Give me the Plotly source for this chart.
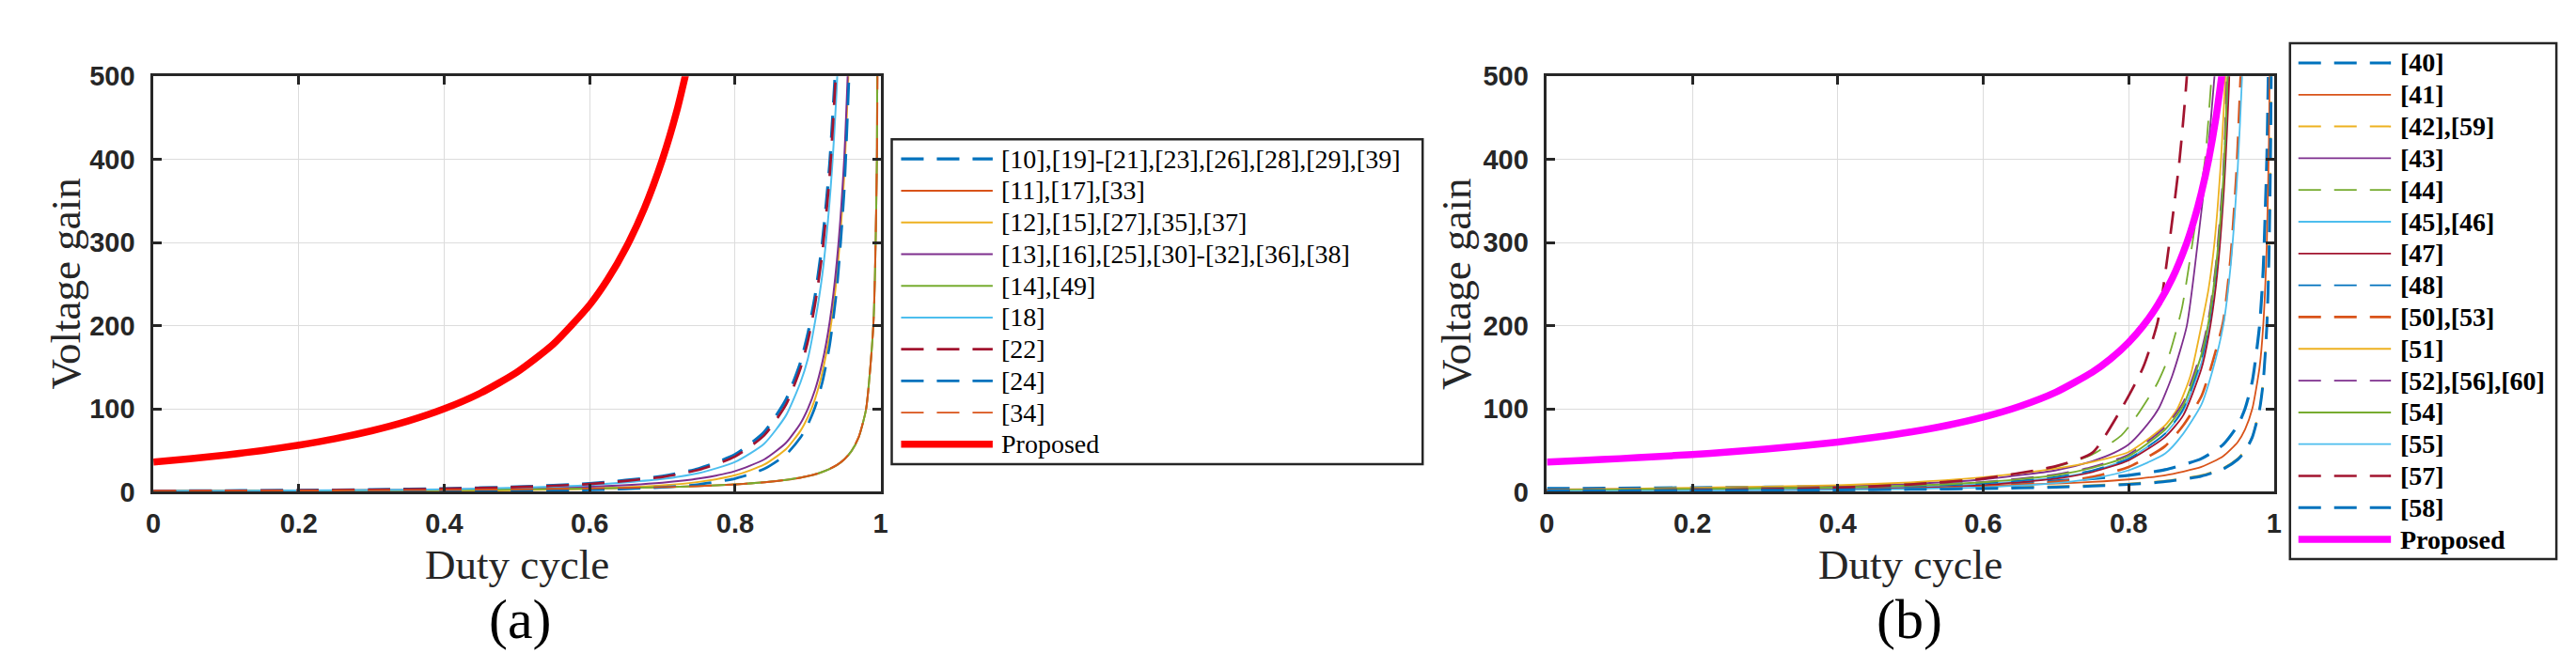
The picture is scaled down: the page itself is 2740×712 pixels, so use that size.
import plotly.graph_objects as go

# ---------------- panel (a) data ----------------
D_A = [0, 0.1, 0.2, 0.3, 0.4, 0.5, 0.6, 0.7, 0.75, 0.8, 0.84, 0.87, 0.89, 0.9,
       0.91, 0.92, 0.93, 0.94, 0.95, 0.96, 0.97, 0.98, 0.99, 0.995, 0.998]
G_A10 = [1, 1.36, 1.88, 2.65, 3.9, 6, 10, 18.9, 28, 45, 72, 111, 156, 190, 236, 300, 394, 539]
G_A11 = [1, 1.2, 1.5, 1.85, 2.3, 3, 4, 5.6, 7, 9, 11.5, 14.4, 17, 19, 21, 24, 27.5, 32, 39, 49, 66, 99, 199, 399, 999]
G_A12 = [0, 0.12, 0.31, 0.61, 1.11, 2, 3.75, 7.8, 12, 20, 32.8, 51.5, 73.6, 90, 112, 144, 190, 261, 380, 600]
G_A13 = [1, 1.23, 1.56, 2.04, 2.78, 4, 6.25, 11.1, 16, 25, 39, 59, 82.6, 100, 123, 156, 204, 278, 400, 625]
G_A14 = [1, 1.22, 1.5, 1.86, 2.33, 3, 4, 5.67, 7, 9, 11.5, 14.4, 17.2, 19, 21.2, 24, 27.6, 32.3, 39, 49, 65.7, 99, 199, 399, 999]
G_A18 = [1, 1.2, 1.6, 2.2, 3.2, 5, 8.2, 15.5, 22.5, 36, 58, 92, 132, 160, 205, 262, 350, 490, 720]
G_A22 = [1, 1.3, 1.8, 2.5, 3.7, 5.7, 9.5, 18, 26.5, 42.5, 68, 105, 149, 181, 226, 288, 380, 525]
G_A24 = [0, 0.01, 0.06, 0.18, 0.44, 1, 2.25, 5.4, 9, 16, 27.6, 44.8, 65.5, 81, 102, 132, 176, 245, 361, 576]
G_A34 = [1, 1.2, 1.5, 1.85, 2.3, 3, 4, 5.7, 7, 9, 11.5, 14.5, 17.2, 19, 21.3, 24, 27.8, 32.5, 39, 49.5, 66, 99, 198, 398, 990]
D_A_PROP = [0, 0.05, 0.1, 0.15, 0.2, 0.25, 0.3, 0.35, 0.4, 0.45, 0.5, 0.55, 0.6, 0.625,
            0.65, 0.675, 0.7, 0.72, 0.74]
G_A_PROP = [36, 39.9, 44.4, 49.8, 56.3, 64, 73.5, 85.2, 100, 119, 144, 177.8, 225, 256,
            293.9, 340.8, 400, 459, 532.5]

LABELS_A = ["[10],[19]-[21],[23],[26],[28],[29],[39]", "[11],[17],[33]",
            "[12],[15],[27],[35],[37]", "[13],[16],[25],[30]-[32],[36],[38]",
            "[14],[49]", "[18]", "[22]", "[24]", "[34]", "Proposed"]

# ---------------- panel (b) data ----------------
D_B40 = [0, 0.1, 0.2, 0.3, 0.4, 0.5, 0.6, 0.7, 0.75, 0.8, 0.85, 0.9, 0.93, 0.95, 0.96, 0.97, 0.98, 0.985, 0.99, 0.992, 0.994]
G_B40 = [4, 4.4, 5, 5.7, 6.7, 8, 10, 13.3, 16, 20, 26.7, 40, 57, 80, 100, 133, 200, 267, 400, 500, 667]
D_B41 = [0, 0.2, 0.4, 0.5, 0.6, 0.7, 0.75, 0.8, 0.85, 0.9, 0.93, 0.95, 0.96, 0.97, 0.98, 0.985, 0.99, 0.993, 0.995]
G_B41 = [3, 3.75, 5, 6, 7.5, 10, 12, 15, 20, 30, 43, 60, 75, 100, 150, 200, 300, 429, 600]
D_B42 = [0, 0.2, 0.4, 0.5, 0.6, 0.7, 0.75, 0.8, 0.85, 0.9, 0.93, 0.95, 0.96, 0.97, 0.98, 0.985, 0.99, 0.993, 0.995, 0.996, 0.997]
G_B42 = [2, 2.5, 3.3, 4, 5, 6.7, 8, 10, 13.3, 20, 28.6, 40, 50, 66.7, 100, 133, 200, 286, 400, 500, 667]
D_B43 = [0, 0.2, 0.4, 0.5, 0.6, 0.7, 0.75, 0.78, 0.8, 0.82, 0.841, 0.86, 0.88, 0.895, 0.908, 0.918, 0.925]
G_B43 = [2, 3.5, 6.5, 9.5, 15, 26, 37, 47, 57, 75, 100, 140, 200, 300, 400, 500, 600]
D_B44 = [0, 0.2, 0.4, 0.5, 0.6, 0.7, 0.75, 0.79, 0.81, 0.839, 0.854, 0.873, 0.89, 0.905, 0.914, 0.92]
G_B44 = [2, 3.5, 7, 10.5, 16.5, 30, 45, 68, 90, 130, 160, 220, 313, 400, 500, 580]
D_B45 = [0, 0.2, 0.4, 0.5, 0.6, 0.7, 0.75, 0.8, 0.85, 0.875, 0.9, 0.91, 0.92, 0.93, 0.937, 0.944]
G_B45 = [1.5, 2.5, 4.5, 6, 9.5, 17, 25, 40, 70, 98, 155, 195, 255, 360, 500, 690]
D_B47 = [0, 0.2, 0.4, 0.5, 0.6, 0.7, 0.75, 0.8, 0.85, 0.875, 0.9, 0.91, 0.92, 0.93, 0.938, 0.945]
G_B47 = [0.5, 1.2, 2.8, 4.5, 8, 16, 24, 38, 66, 92, 148, 188, 248, 350, 490, 680]
D_B48 = [0, 0.2, 0.4, 0.5, 0.6, 0.7, 0.75, 0.8, 0.85, 0.875, 0.9, 0.91, 0.92, 0.93, 0.936, 0.943]
G_B48 = [2, 3, 5, 6.5, 10, 18, 26, 40, 70, 100, 160, 200, 265, 370, 500, 700]
D_B50 = [0, 0.2, 0.4, 0.5, 0.6, 0.7, 0.75, 0.8, 0.85, 0.875, 0.9, 0.915, 0.93, 0.94, 0.948, 0.954, 0.96]
G_B50 = [1, 1.5, 2.5, 3.8, 6, 12, 18, 30, 55, 80, 115, 155, 205, 280, 380, 500, 650]
D_B51 = [0, 0.1, 0.2, 0.3, 0.4, 0.5, 0.6, 0.7, 0.75, 0.8, 0.85, 0.867, 0.885, 0.9, 0.91, 0.918, 0.927, 0.933, 0.94]
G_B51 = [2.5, 3.5, 5, 6.3, 8, 11.5, 17.6, 28, 36, 48, 80, 100, 140, 200, 245, 300, 400, 500, 650]
D_B52 = [0, 0.2, 0.4, 0.5, 0.6, 0.7, 0.75, 0.8, 0.85, 0.875, 0.9, 0.91, 0.92, 0.93, 0.935, 0.942]
G_B52 = [2.5, 4, 6, 8, 12, 21, 30, 45, 78, 108, 170, 210, 275, 385, 500, 700]
D_B54 = [0, 0.2, 0.4, 0.5, 0.6, 0.7, 0.75, 0.8, 0.85, 0.875, 0.9, 0.91, 0.92, 0.93, 0.936, 0.943]
G_B54 = [2, 3.5, 5.5, 7.5, 11.5, 20, 29, 43, 75, 104, 165, 205, 270, 375, 500, 700]
D_B55 = [0, 0.2, 0.4, 0.5, 0.6, 0.7, 0.75, 0.8, 0.85, 0.875, 0.9, 0.915, 0.93, 0.94, 0.95, 0.956, 0.962]
G_B55 = [1, 1.4, 2.3, 3.4, 5.5, 10.5, 16, 26, 46, 70, 105, 145, 200, 270, 390, 500, 650]
D_B57 = [0, 0.2, 0.4, 0.5, 0.6, 0.7, 0.75, 0.79, 0.82, 0.84, 0.856, 0.87, 0.88, 0.885]
G_B57 = [1, 2, 5, 9, 16, 31, 47, 100, 150, 205, 300, 400, 500, 600]
D_B58 = [0, 0.2, 0.4, 0.5, 0.6, 0.7, 0.75, 0.8, 0.85, 0.9, 0.93, 0.95, 0.96, 0.97, 0.98, 0.985, 0.99, 0.993, 0.995, 0.996, 0.997]
G_B58 = [1, 1.5, 2.3, 3, 4, 5.7, 7, 9, 12.3, 19, 27.6, 39, 49, 65.7, 99, 132, 199, 285, 399, 499, 665]
D_B_PROP = [0, 0.05, 0.1, 0.15, 0.2, 0.25, 0.3, 0.35, 0.4, 0.45, 0.5, 0.55, 0.6, 0.65, 0.7,
            0.75, 0.775, 0.8, 0.82, 0.84, 0.86, 0.88, 0.89, 0.9, 0.91, 0.92, 0.93]
G_B_PROP = [36, 37.9, 40, 42.4, 45, 48, 51.4, 55.4, 60, 65.5, 72, 80, 90, 102.9, 120,
            144, 160, 180, 200, 225, 257, 300, 327.3, 360, 400, 450, 514]

LABELS_B = ["[40]", "[41]", "[42],[59]", "[43]", "[44]", "[45],[46]", "[47]", "[48]",
            "[50],[53]", "[51]", "[52],[56],[60]", "[54]", "[55]", "[57]", "[58]", "Proposed"]

X_TICKS = [0, 0.2, 0.4, 0.6, 0.8, 1]
X_TICKTEXT = ["0", "0.2", "0.4", "0.6", "0.8", "1"]
Y_TICKS = [0, 100, 200, 300, 400, 500]
Y_TICKTEXT = ["0", "100", "200", "300", "400", "500"]

# ---------------- styles ----------------
BLUE, ORANGE, YELLOW, PURPLE = "#0072BD", "#D95319", "#EDB120", "#7E2F8E"
GREEN, LBLUE, DRED = "#77AC30", "#4DBEEE", "#A2142F"
DASH = "24px,14px"
INK = "#262626"

SERIES_A = [(D_A, G_A10), (D_A, G_A11), (D_A, G_A12), (D_A, G_A13), (D_A, G_A14),
            (D_A, G_A18), (D_A, G_A22), (D_A, G_A24), (D_A, G_A34), (D_A_PROP, G_A_PROP)]
STYLE_A = [(BLUE, 3.2, DASH), (ORANGE, 2, "solid"), (YELLOW, 2, "solid"), (PURPLE, 2, "solid"),
           (GREEN, 2, "solid"), (LBLUE, 2, "solid"), (DRED, 2.7, DASH), (BLUE, 2.7, DASH),
           (ORANGE, 1.8, DASH), ("#FF0000", 7.5, "solid")]

SERIES_B = [(D_B40, G_B40), (D_B41, G_B41), (D_B42, G_B42), (D_B43, G_B43), (D_B44, G_B44),
            (D_B45, G_B45), (D_B47, G_B47), (D_B48, G_B48), (D_B50, G_B50), (D_B51, G_B51),
            (D_B52, G_B52), (D_B54, G_B54), (D_B55, G_B55), (D_B57, G_B57), (D_B58, G_B58),
            (D_B_PROP, G_B_PROP)]
STYLE_B = [(BLUE, 3.2, DASH), (ORANGE, 1.8, "solid"), (YELLOW, 2, DASH), (PURPLE, 1.8, "solid"),
           (GREEN, 1.8, DASH), (LBLUE, 1.8, "solid"), (DRED, 1.8, "solid"), (BLUE, 1.8, DASH),
           (ORANGE, 2.7, DASH), (YELLOW, 1.8, "solid"), (PURPLE, 1.8, DASH), (GREEN, 2, "solid"),
           (LBLUE, 1.8, "solid"), (DRED, 2.7, DASH), (BLUE, 3, DASH), ("#FF00FF", 7.5, "solid")]

W, H = 2740, 712


def px(x):
    return x / W


def py(y):
    return 1 - y / H


fig = go.Figure()

for (d, g), (c, w, ds), name in zip(SERIES_A, STYLE_A, LABELS_A):
    n = min(len(d), len(g))
    fig.add_trace(go.Scatter(x=d[:n], y=g[:n], mode="lines", name=name, showlegend=False,
                             line=dict(color=c, width=w, dash=ds, shape="spline", smoothing=0.6),
                             xaxis="x", yaxis="y", hoverinfo="skip"))

for (d, g), (c, w, ds), name in zip(SERIES_B, STYLE_B, LABELS_B):
    n = min(len(d), len(g))
    fig.add_trace(go.Scatter(x=d[:n], y=g[:n], mode="lines", name=name, showlegend=False,
                             line=dict(color=c, width=w, dash=ds, shape="spline", smoothing=0.6),
                             xaxis="x2", yaxis="y2", hoverinfo="skip"))

tickfont = dict(family="Liberation Sans, Arial, sans-serif", size=29, color=INK, weight="bold")
ax_common = dict(showline=True, linecolor=INK, linewidth=2.5, mirror="ticks", ticks="inside",
                 ticklen=9, tickwidth=2.5, tickcolor=INK, showgrid=True, gridcolor="#dcdcdc",
                 gridwidth=1.3, zeroline=False, tickfont=tickfont, fixedrange=True)

xa = dict(ax_common, range=[0, 1], tickvals=X_TICKS, ticktext=X_TICKTEXT, ticklabelstandoff=6)
ya = dict(ax_common, range=[0, 500], tickvals=Y_TICKS, ticktext=Y_TICKTEXT, ticklabelstandoff=11)

fig.update_layout(
    width=W, height=H, margin=dict(l=0, r=0, t=0, b=0),
    paper_bgcolor="white", plot_bgcolor="white",
    xaxis=dict(xa, domain=[px(148), px(926)], anchor="y"),
    yaxis=dict(ya, domain=[py(523), py(60)], anchor="x"),
    xaxis2=dict(xa, domain=[px(1639), px(2417)], anchor="y2"),
    yaxis2=dict(ya, domain=[py(523), py(60)], anchor="x2"),
)

serif = "Liberation Serif, Times New Roman, serif"
annotations = []
shapes = []


def text(x, y, s, size, color=INK, angle=0, xanchor="center", weight="normal"):
    annotations.append(dict(x=px(x), y=py(y), xref="paper", yref="paper", text=s, showarrow=False,
                            textangle=angle, xanchor=xanchor, yanchor="middle",
                            font=dict(family=serif, size=size, color=color, weight=weight)))


# axis titles and panel captions
text(54, 291, "Voltage gain", 45, angle=-90)
text(537, 604, "Duty cycle", 45)
text(541, 665, "(a)", 60, color="black")
text(1542, 291, "Voltage gain", 45, angle=-90)
text(2028, 604, "Duty cycle", 45)
text(2027, 665, "(b)", 60, color="black")


def legend(box, y0, step, lx0, lx1, tx, labels, styles, weight):
    x0, x1, yt, yb = box
    shapes.append(dict(type="rect", xref="paper", yref="paper", x0=px(x0), x1=px(x1),
                       y0=py(yb), y1=py(yt), line=dict(color=INK, width=2.5),
                       fillcolor="white", layer="above"))
    for i, (lab, (c, w, ds)) in enumerate(zip(labels, styles)):
        y = y0 + i * step
        shapes.append(dict(type="line", xref="paper", yref="paper", x0=px(lx0), x1=px(lx1),
                           y0=py(y), y1=py(y), line=dict(color=c, width=w, dash=ds), layer="above"))
        text(tx, y, lab, 28, color="black", xanchor="left", weight=weight)


legend((938, 1506, 130, 492), 152, 35.33, 948, 1046, 1053, LABELS_A, STYLE_A, "normal")
legend((2434, 2719, 23, 598), 45, 35.4, 2443, 2542, 2550, LABELS_B, STYLE_B, "bold")

fig.update_layout(annotations=annotations, shapes=shapes)
fig.write_html("out.html")
